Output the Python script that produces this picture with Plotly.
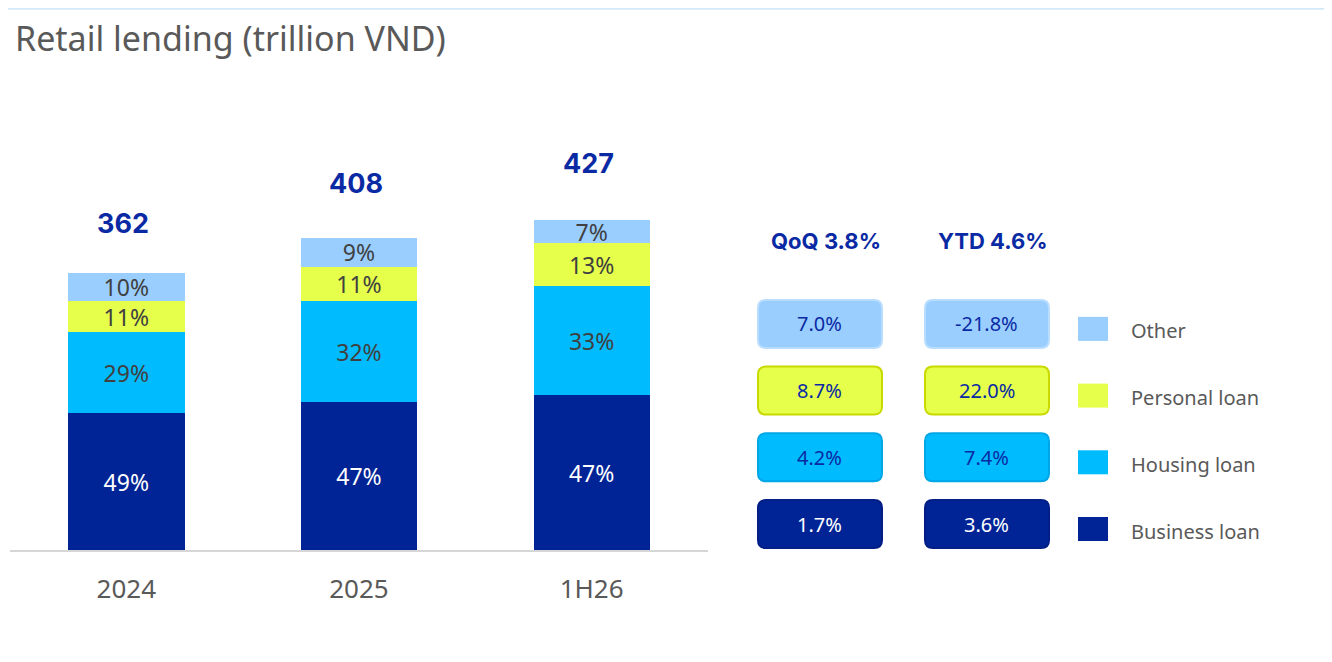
import plotly.graph_objects as go

# ---------------- data ----------------
periods = ["2024", "2025", "1H26"]
totals = [362, 408, 427]
segments = ["Business loan", "Housing loan", "Personal loan", "Other"]
share_business = [49, 47, 47]
share_housing = [29, 32, 33]
share_personal = [11, 11, 13]
share_other = [10, 9, 7]
qoq_header = "QoQ 3.8%"
ytd_header = "YTD 4.6%"
qoq_growth = [1.7, 4.2, 8.7, 7.0]     # business, housing, personal, other
ytd_growth = [3.6, 7.4, 22.0, -21.8]

# ---------------- style ----------------
OFF = 8                      # page body margin
FW, FH = 1332 - OFF, 662 - OFF
FONT = "Noto Sans"
C_BUS, C_HOU, C_PER, C_OTH = "#002395", "#00BCFF", "#E5FF4B", "#9ACEFF"
BORDER = ["#001E86", "#00A6E6", "#C9D900", "#B9DDFF"]
TXT_DARK = "#404040"
BLUE_TXT = "#0A2AA4"


def px_x(p):
    return (p - OFF) / FW


def px_y(p):
    return 1 - (p - OFF) / FH


shares = [share_business, share_housing, share_personal, share_other]
colors = [C_BUS, C_HOU, C_PER, C_OTH]
txtcolors = ["white", TXT_DARK, TXT_DARK, TXT_DARK]

fig = go.Figure()
for name, sh, col, tc in zip(segments, shares, colors, txtcolors):
    vals = [t * s / 100 for t, s in zip(totals, sh)]
    fig.add_trace(go.Bar(
        x=periods, y=vals, name=name, marker=dict(color=col, line=dict(width=0)),
        text=[f"{s}%" for s in sh], textposition="inside", insidetextanchor="middle",
        textangle=0, constraintext="none", cliponaxis=False,
        textfont=dict(family=FONT, size=23, color=tc), hoverinfo="skip",
        showlegend=False, xaxis="x", yaxis="y"))

# total labels
label_shift = [47, 52, 57]
annotations = []
for i, (t, sh) in enumerate(zip(totals, label_shift)):
    annotations.append(dict(x=i, y=t, xref="x", yref="y", text=f"<b>{t}</b>",
                            showarrow=False, yshift=sh, xshift=-3,
                            font=dict(family="Inter", size=27, color=BLUE_TXT)))

# ---------------- axes geometry ----------------
PXU_Y = 0.772  # px per trillion
main_x = [px_x(10), px_x(708)]
main_y = [px_y(550), px_y(100)]
yrange = [0, 450 / PXU_Y]

COLPX, ROWPX = 167.0, 66.7
COL0, ROW0 = 820.0, 524.0
x2_px = [740, 1320]
y2_px = [280, 580]  # top, bottom
x2_range = [(x2_px[0] - COL0) / COLPX, (x2_px[1] - COL0) / COLPX]
y2_range = [(ROW0 - y2_px[1]) / ROWPX, (ROW0 - y2_px[0]) / ROWPX]

fig.update_layout(
    width=FW, height=FH, margin=dict(l=0, r=0, t=0, b=0),
    paper_bgcolor="white", plot_bgcolor="white",
    barmode="stack", bargap=0.5,
    xaxis=dict(domain=main_x, type="category", range=[-0.5, 2.5], showline=True,
               linecolor="#D6D6D6", linewidth=2, showgrid=False, ticks="outside",
               ticklen=15, tickcolor="rgba(0,0,0,0)", zeroline=False,
               tickfont=dict(family=FONT, size=26, color="#595959")),
    yaxis=dict(domain=main_y, range=yrange, visible=False, showgrid=False),
    xaxis2=dict(domain=[px_x(x2_px[0]), px_x(x2_px[1])], range=x2_range, visible=False,
                anchor="y2"),
    yaxis2=dict(domain=[px_y(y2_px[1]), px_y(y2_px[0])], range=y2_range,
                visible=False, anchor="x2"),
    font=dict(family=FONT),
)

# dummy trace to activate x2/y2
fig.add_trace(go.Scatter(x=[0], y=[0], xaxis="x2", yaxis="y2", mode="markers",
                         marker=dict(opacity=0), showlegend=False, hoverinfo="skip"))

shapes = []


def rrect(cx, cy, hwp, hhp, rp):
    hw, hh = hwp / COLPX, hhp / ROWPX
    rx, ry = rp / COLPX, rp / ROWPX
    x0, x1, y0, y1 = cx - hw, cx + hw, cy - hh, cy + hh
    return (f"M {x0+rx},{y0} L {x1-rx},{y0} Q {x1},{y0} {x1},{y0+ry} "
            f"L {x1},{y1-ry} Q {x1},{y1} {x1-rx},{y1} L {x0+rx},{y1} "
            f"Q {x0},{y1} {x0},{y1-ry} L {x0},{y0+ry} Q {x0},{y0} {x0+rx},{y0} Z")


for ci, growth in enumerate([qoq_growth, ytd_growth]):
    for ri, g in enumerate(growth):
        shapes.append(dict(type="path", xref="x2", yref="y2",
                           path=rrect(ci, ri, 62, 24, 8), fillcolor=colors[ri],
                           line=dict(color=BORDER[ri], width=2), layer="above"))
        annotations.append(dict(x=ci, y=ri, xref="x2", yref="y2", text=f"{g:.1f}%",
                                showarrow=False,
                                font=dict(family=FONT, size=20,
                                          color="white" if ri == 0 else BLUE_TXT)))

for ci, hdr in enumerate([qoq_header, ytd_header]):
    annotations.append(dict(x=ci, y=px_y(241), xref="x2", yref="paper",
                            text=f"<b>{hdr}</b>", showarrow=False, xshift=6,
                            yanchor="middle",
                            font=dict(family="Inter", size=22, color=BLUE_TXT)))

# legend
LEG_X = (1093 - COL0) / COLPX
LEG_TX = (1131 - COL0) / COLPX
for ri, name in enumerate(segments):
    cy = ri - 5 / ROWPX
    shapes.append(dict(type="rect", xref="x2", yref="y2",
                       x0=LEG_X - 15 / COLPX, x1=LEG_X + 15 / COLPX,
                       y0=cy - 12 / ROWPX, y1=cy + 12 / ROWPX,
                       fillcolor=colors[ri], line=dict(width=0)))
    annotations.append(dict(x=LEG_TX, y=cy, xref="x2", yref="y2", text=name,
                            showarrow=False, xanchor="left", yshift=-2, xshift=-2,
                            font=dict(family=FONT, size=20, color="#595959")))

# title
annotations.append(dict(x=px_x(13), y=px_y(38), xref="paper", yref="paper",
                        text="Retail lending (trillion VND)", showarrow=False,
                        xanchor="left", yanchor="middle",
                        font=dict(family=FONT, size=34, color="#595959")))
# top line
shapes.append(dict(type="line", xref="paper", yref="paper", x0=0, x1=1,
                   y0=0.999, y1=0.999, line=dict(color="#D3E9F8", width=2)))

fig.update_layout(shapes=shapes, annotations=annotations)
fig.write_html("out.html")
